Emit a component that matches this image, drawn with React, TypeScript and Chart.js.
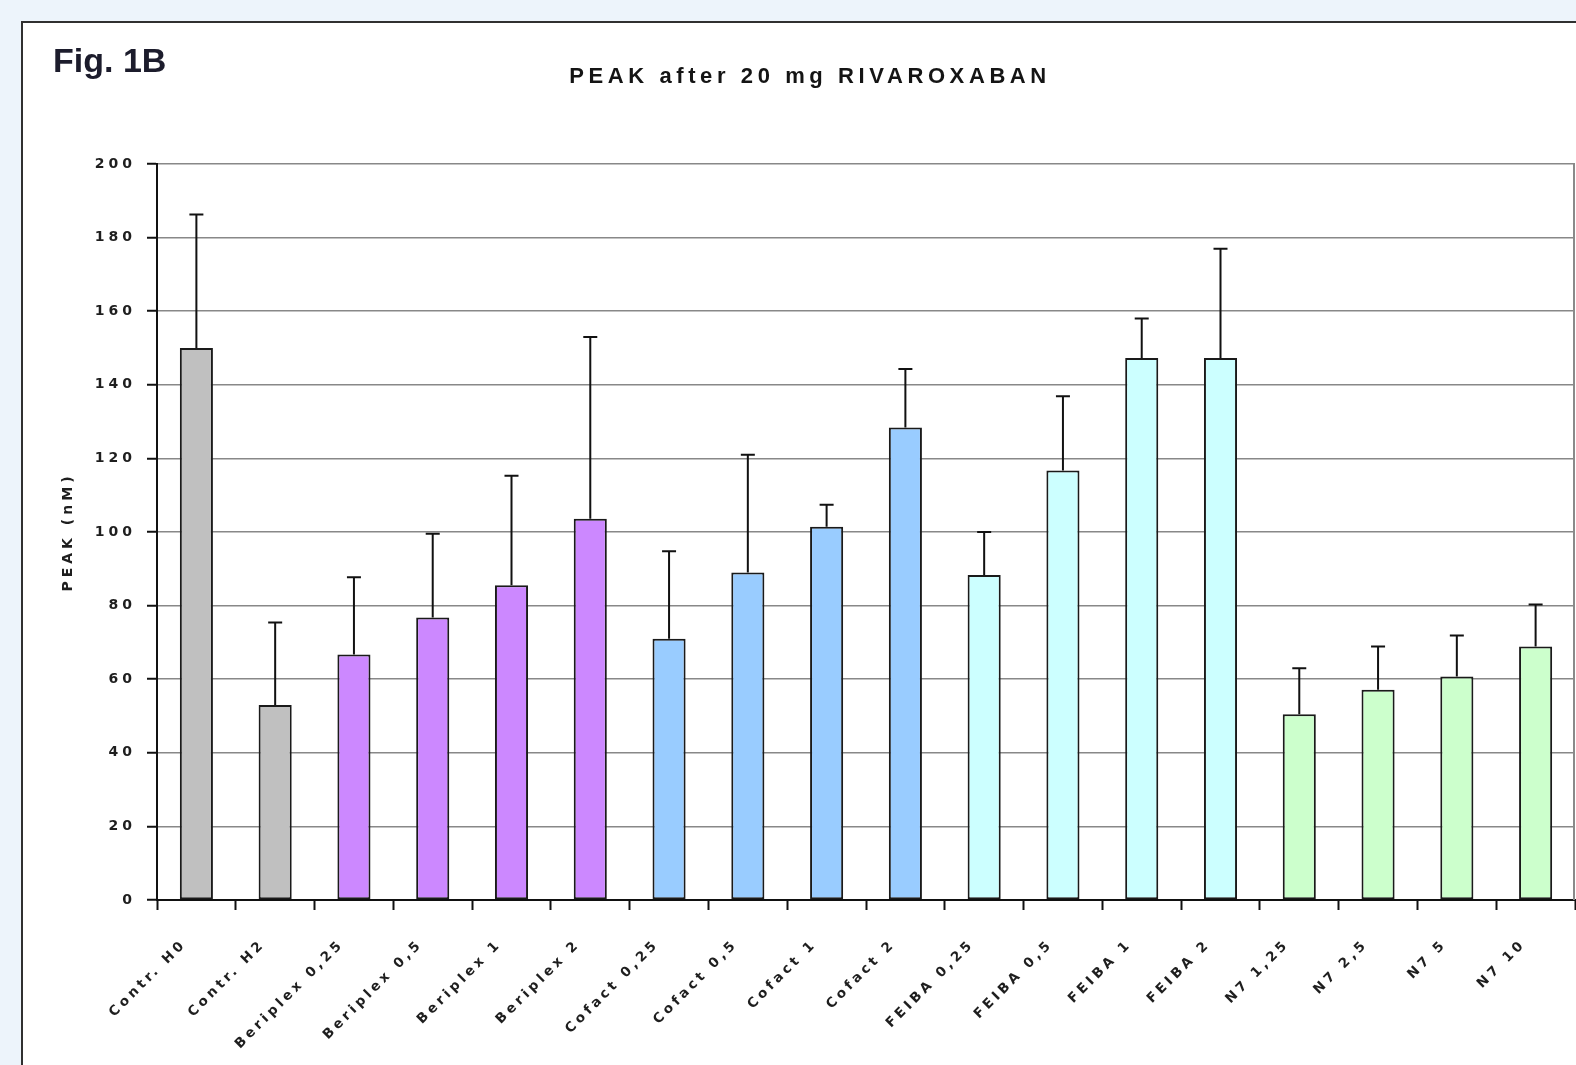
import React, { useEffect, useRef } from "react";
import { Chart, registerables } from "chart.js";

Chart.register(...registerables);

const categories = [
  "Contr. H0", "Contr. H2",
  "Beriplex 0,25", "Beriplex 0,5", "Beriplex 1", "Beriplex 2",
  "Cofact 0,25", "Cofact 0,5", "Cofact 1", "Cofact 2",
  "FEIBA 0,25", "FEIBA 0,5", "FEIBA 1", "FEIBA 2",
  "N7 1,25", "N7 2,5", "N7 5", "N7 10",
];

const peakValues = [
  150, 53,
  66.7, 76.8, 85.5, 103.6,
  71, 89, 101.4, 128.4,
  88.3, 116.7, 147.3, 147.3,
  50.5, 57.1, 60.7, 68.9,
];

const errorTops = [
  186.3, 75.4,
  87.7, 99.5, 115.3, 153,
  94.8, 121, 107.4, 144.3,
  100, 136.9, 158, 177,
  63, 68.9, 71.9, 80.3,
];

const barColors = [
  "#c0c0c0", "#c0c0c0",
  "#cc88ff", "#cc88ff", "#cc88ff", "#cc88ff",
  "#99ccff", "#99ccff", "#99ccff", "#99ccff",
  "#ccffff", "#ccffff", "#ccffff", "#ccffff",
  "#ccffcc", "#ccffcc", "#ccffcc", "#ccffcc",
];

const yMin = 0;
const yMax = 200;
const yStep = 20;

const chartTitle = "PEAK after 20 mg RIVAROXABAN";
const figLabel = "Fig. 1B";
const yAxisTitle = "PEAK (nM)";

const AXIS_FONT = "'DejaVu Sans', sans-serif";

export default function App() {
  const ref = useRef<HTMLCanvasElement>(null);

  useEffect(() => {
    const canvas = ref.current;
    if (!canvas) return;

    const spacingPlugin = {
      id: "spacing",
      beforeUpdate(chart: any) {
        chart.ctx.letterSpacing = "4px";
      },
      beforeDraw(chart: any) {
        chart.ctx.letterSpacing = "4px";
      },
    };

    const decorPlugin = {
      id: "decor",
      beforeDatasetsDraw(chart: any) {
        const { ctx, chartArea } = chart;
        ctx.save();
        ctx.strokeStyle = "#8a8a8a";
        ctx.lineWidth = 2;
        ctx.beginPath();
        ctx.moveTo(chartArea.right - 1, chartArea.top);
        ctx.lineTo(chartArea.right - 1, chartArea.bottom);
        ctx.stroke();
        ctx.restore();
      },
      afterDatasetsDraw(chart: any) {
        const { ctx } = chart;
        const meta = chart.getDatasetMeta(0);
        const ys = chart.scales.y;
        ctx.save();
        ctx.strokeStyle = "#111";
        ctx.lineWidth = 2;
        meta.data.forEach((bar: any, i: number) => {
          const x = bar.x;
          const yTop = ys.getPixelForValue(errorTops[i]);
          const yBar = ys.getPixelForValue(peakValues[i]);
          ctx.beginPath();
          ctx.moveTo(x, yBar);
          ctx.lineTo(x, yTop);
          ctx.moveTo(x - 7, yTop);
          ctx.lineTo(x + 7, yTop);
          ctx.stroke();
        });
        ctx.restore();
      },
      afterDraw(chart: any) {
        const { ctx, chartArea } = chart;
        const xs = chart.scales.x;
        ctx.save();
        // category labels, rotated 45°
        ctx.fillStyle = "#1e1e1e";
        ctx.letterSpacing = "3.6px";
        ctx.font = `bold 13.5px ${AXIS_FONT}`;
        ctx.textAlign = "right";
        ctx.textBaseline = "middle";
        categories.forEach((label, i) => {
          const x = xs.getPixelForValue(i);
          ctx.save();
          ctx.translate(x - 12, chartArea.bottom + 42);
          ctx.rotate(-Math.PI / 4);
          ctx.fillText(label, 0, 0);
          ctx.restore();
        });
        // chart title
        ctx.fillStyle = "#141414";
        ctx.letterSpacing = "4.6px";
        ctx.font = "bold 22px 'Liberation Sans', Arial, sans-serif";
        ctx.textAlign = "center";
        ctx.textBaseline = "middle";
        ctx.fillText(chartTitle, 770, 53);
        // figure label
        ctx.letterSpacing = "0px";
        ctx.fillStyle = "#1c1c2c";
        ctx.font = "bold 34px 'Liberation Sans', Arial, sans-serif";
        ctx.textAlign = "left";
        ctx.textBaseline = "alphabetic";
        ctx.fillText(figLabel, 13, 48);
        ctx.restore();
      },
    };

    const chart = new Chart(canvas, {
      type: "bar",
      data: {
        labels: categories,
        datasets: [
          {
            data: peakValues,
            backgroundColor: barColors,
            borderColor: "#1a1a1a",
            borderWidth: 2,
            borderSkipped: false,
            barPercentage: 0.42,
            categoryPercentage: 1,
          },
        ],
      },
      options: {
        animation: false,
        responsive: false,
        devicePixelRatio: 1,
        layout: { padding: { left: 20, top: 140, right: 1, bottom: 0 } },
        plugins: {
          legend: { display: false },
          tooltip: { enabled: false },
          title: { display: false },
        },
        scales: {
          x: {
            offset: true,
            grid: {
              display: true,
              drawOnChartArea: false,
              drawTicks: true,
              tickLength: 10,
              tickColor: "#111",
              tickWidth: 2,
              offset: true,
            },
            border: { color: "#111", width: 2 },
            ticks: {
              display: false,
              autoSkip: false,
            },
            afterFit(scale: any) {
              scale.height = 165;
            },
          },
          y: {
            min: yMin,
            max: yMax,
            grid: {
              color: "#888888",
              lineWidth: 1.5,
              tickLength: 10,
              tickColor: "#111",
              tickWidth: 2,
            },
            border: { color: "#111", width: 2 },
            ticks: {
              stepSize: yStep,
              padding: 11,
              color: "#1e1e1e",
              font: { family: AXIS_FONT, size: 14, weight: "bold" },
            },
            title: {
              display: true,
              text: yAxisTitle,
              color: "#1e1e1e",
              padding: { top: 0, bottom: 0 },
              font: { family: AXIS_FONT, size: 14, weight: "bold" },
            },
            afterFit(scale: any) {
              scale.width = 97;
            },
          },
        },
      },
      plugins: [spacingPlugin, decorPlugin],
    } as any);

    return () => chart.destroy();
  }, []);

  return (
    <div
      style={{
        position: "fixed",
        left: 0,
        top: 0,
        width: 1576,
        height: 1065,
        background: "#edf4fb",
        overflow: "hidden",
      }}
    >
      <div
        style={{
          position: "absolute",
          left: 21,
          top: 21,
          width: 1600,
          height: 1100,
          border: "2px solid #303030",
          background: "#ffffff",
        }}
      />
      <canvas
        ref={ref}
        width={1536}
        height={1041}
        style={{ position: "absolute", left: 40, top: 24, width: 1536, height: 1041 }}
      />
    </div>
  );
}
